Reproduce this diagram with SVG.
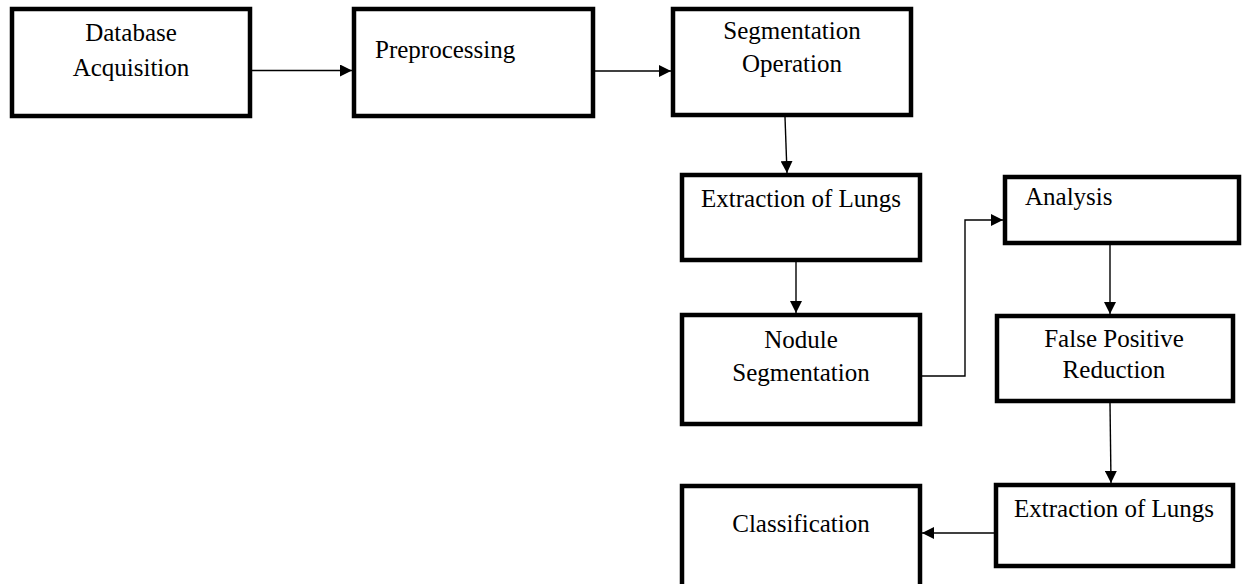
<svg xmlns="http://www.w3.org/2000/svg" width="1242" height="584" viewBox="0 0 1242 584">
<style>
.box{fill:#fff;stroke:#000;stroke-width:4.5}
.lbl{font-family:'Liberation Serif','Tinos','Times New Roman','DejaVu Serif',serif;font-size:25px;fill:#000}
.c{text-anchor:middle}
.conn{fill:none;stroke:#000;stroke-width:1.4}
</style>
<defs>
<marker id="ah" viewBox="0 0 12 12" refX="12" refY="6" markerWidth="12" markerHeight="12" markerUnits="userSpaceOnUse" orient="auto">
<path d="M0,0 L12,6 L0,12 Z" fill="#000"/>
</marker>
</defs>
<rect width="1242" height="584" fill="#fff"/>
<g id="connectors">
<line class="conn" x1="252" y1="70.5" x2="352" y2="70.5" marker-end="url(#ah)"/>
<line class="conn" x1="595" y1="71" x2="671" y2="71" marker-end="url(#ah)"/>
<line class="conn" x1="785" y1="117" x2="787" y2="173" marker-end="url(#ah)"/>
<line class="conn" x1="796" y1="262" x2="796" y2="313" marker-end="url(#ah)"/>
<polyline class="conn" points="922,376 965,376 965,220 1003,220" marker-end="url(#ah)"/>
<line class="conn" x1="1110" y1="245" x2="1110" y2="314" marker-end="url(#ah)"/>
<line class="conn" x1="1110" y1="403" x2="1111" y2="483" marker-end="url(#ah)"/>
<line class="conn" x1="994" y1="533" x2="922" y2="533" marker-end="url(#ah)"/>
</g>
<g id="n-database">
<rect class="box" x="12" y="9" width="238" height="107"/>
<text class="lbl c" x="131" y="41">Database</text>
<text class="lbl c" x="131" y="76">Acquisition</text>
</g>
<g id="n-preprocessing">
<rect class="box" x="354" y="9" width="239" height="107"/>
<text class="lbl" x="375" y="58">Preprocessing</text>
</g>
<g id="n-segop">
<rect class="box" x="673" y="9" width="238" height="106"/>
<text class="lbl c" x="792" y="39">Segmentation</text>
<text class="lbl c" x="792" y="72">Operation</text>
</g>
<g id="n-extraction1">
<rect class="box" x="682" y="175" width="238" height="85"/>
<text class="lbl c" x="801" y="207">Extraction of Lungs</text>
</g>
<g id="n-analysis">
<rect class="box" x="1005" y="177" width="234" height="66"/>
<text class="lbl" x="1025" y="205">Analysis</text>
</g>
<g id="n-nodule">
<rect class="box" x="682" y="315" width="238" height="109"/>
<text class="lbl c" x="801" y="348">Nodule</text>
<text class="lbl c" x="801" y="381">Segmentation</text>
</g>
<g id="n-fpr">
<rect class="box" x="997" y="316" width="236" height="85"/>
<text class="lbl c" x="1114" y="347">False Positive</text>
<text class="lbl c" x="1114" y="378">Reduction</text>
</g>
<g id="n-extraction2">
<rect class="box" x="996" y="485" width="237" height="81"/>
<text class="lbl c" x="1114" y="517">Extraction of Lungs</text>
</g>
<g id="n-classification">
<rect class="box" x="682" y="486" width="238" height="110"/>
<text class="lbl c" x="801" y="532">Classification</text>
</g>
</svg>
